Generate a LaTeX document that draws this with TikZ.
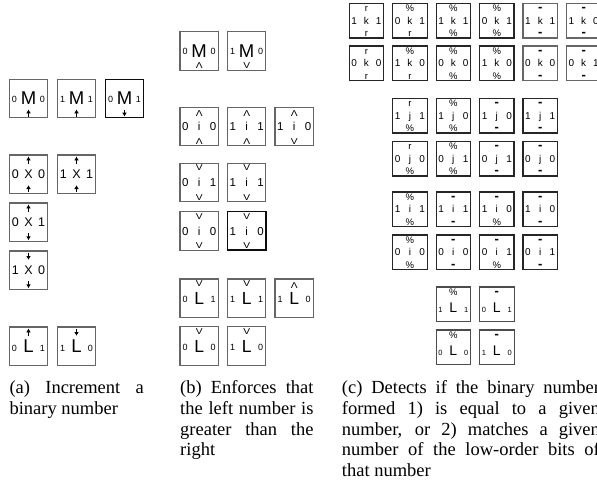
\documentclass[tikz,border=0pt]{standalone}
\usepackage{fontspec}
\setmainfont{Liberation Serif}
\newfontfamily\tf{Liberation Sans}
\newfontfamily\wf[FakeStretch=1.2]{Liberation Sans}
\usetikzlibrary{arrows.meta}
\newcommand\fs[1]{\fontsize{#1}{#1}\selectfont}
\newcommand\dsh{{\fontsize{13}{13}\selectfont\bfseries -}}
\newcommand\wU{\raisebox{-1.8pt}{Λ}}
% #1 name, #2 position, #3 type, #4 extra style, #5 N, #6 W, #7 C, #8 E, #9 S
\newcommand\tile[9]{%
  \node[t#3,#4] (#1) at (#2) {#7};
  \node[s#3,anchor=base west] (#1w) at (#1.base west) {#6};
  \node[s#3,anchor=base east] (#1e) at (#1.base east) {#8};
  \node[n#3,anchor=north] (#1n) at (#1.north) {#5};
  \node[b#3,anchor=south] (#1s) at (#1.south) {#9};
}
\newcommand\upT[1]{\draw[arr] ([yshift=-8.8pt]#1.north) -- ([yshift=-1.6pt]#1.north);}
\newcommand\dnT[1]{\draw[arr] ([yshift=-1.6pt]#1.north) -- ([yshift=-8.8pt]#1.north);}
\newcommand\upB[1]{\draw[arr] ([yshift=1.2pt]#1.south) -- ([yshift=8.2pt]#1.south);}
\newcommand\dnB[1]{\draw[arr] ([yshift=8.2pt]#1.south) -- ([yshift=1.2pt]#1.south);}
\tikzset{
  tb/.style={draw=black!60, line width=1.1pt, inner sep=0pt, outer sep=0pt, anchor=north west},
  dk/.style={draw=black!95, line width=1.4pt},
  arr/.style={line width=1pt, -{Latex[length=3.8pt,width=4.8pt]}},
  wed/.style={font=\wf\fs{8.5}},
  tX/.style={tb, minimum size=38.4pt, font=\tf\fs{12.5}, text height=9pt, text depth=0pt},
  sX/.style={font=\tf\fs{12.5}, inner sep=2.3pt},
  nX/.style={inner sep=0pt}, bX/.style={inner sep=0pt},
  tL/.style={tb, minimum size=38.4pt, font=\tf\fs{18.5}, text height=13.2pt, text depth=0pt},
  sL/.style={font=\tf\fs{9}, inner sep=2.5pt, yshift=1.8pt},
  nL/.style={inner sep=0pt}, bL/.style={inner sep=0pt},
  tM/.style={tb, minimum size=38.4pt, font=\tf\fs{18.5}, text height=13.2pt, text depth=1pt},
  sM/.style={font=\tf\fs{9}, inner sep=2.5pt, yshift=2.3pt},
  nM/.style={inner sep=0pt}, bM/.style={wed, inner sep=1.4pt, text depth=0pt},
  tBL/.style={tb, minimum size=38.4pt, font=\tf\fs{17.5}, text height=12.5pt, text depth=0pt},
  sBL/.style={font=\tf\fs{9}, inner sep=2.5pt, yshift=1.8pt},
  nBL/.style={wed, inner sep=1pt, text height=6.2pt, text depth=0pt},
  bBL/.style={inner sep=0pt},
  tI/.style={tb, minimum size=38.4pt, font=\tf\fs{11.5}, text height=8.2pt, text depth=0pt},
  sI/.style={font=\tf\fs{11.5}, inner sep=2pt},
  nI/.style={wed, inner sep=1pt, text height=6.2pt, text depth=0pt},
  bI/.style={wed, inner sep=1pt, text depth=0pt},
  tK/.style={tb, draw=black!85, line width=1.2pt, minimum size=34.5pt, font=\tf\fs{10}, text height=7.2pt, text depth=0pt},
  sK/.style={font=\tf\fs{10}, inner sep=2pt},
  nK/.style={font=\tf\fs{9.5}, inner sep=1pt, text height=7pt, text depth=0pt},
  bK/.style={font=\tf\fs{9.5}, inner sep=1.2pt, text depth=0pt},
  tCL/.style={tb, draw=black!70, line width=1.1pt, minimum size=34.5pt, font=\tf\fs{14}, text height=16pt, text depth=0pt},
  sCL/.style={font=\tf\fs{7.5}, inner sep=2pt},
  nCL/.style={nK}, bCL/.style={inner sep=0pt},
  captext/.style={anchor=north west, inner sep=0pt, align=justify,
    font={\fontsize{18.5}{20.8}\selectfont\tolerance=10000 \hyphenpenalty=10000 \exhyphenpenalty=10000 }}
}
\begin{document}
\begin{tikzpicture}[x=1pt,y=-1pt]
\useasboundingbox (0,0) rectangle (597,485);
\clip (0,0) rectangle (597,485);
\fill[white] (0,0) rectangle (597,485);
% ---------------- (a)
\tile{aM1}{9.3,79.3}{M}{}{}{0}{M}{0}{} \upB{aM1}
\tile{aM2}{57.3,79.3}{M}{}{}{1}{M}{1}{} \upB{aM2}
\tile{aM3}{105.3,79.3}{M}{dk}{}{0}{M}{1}{} \dnB{aM3}
\tile{aX1}{9.3,155}{X}{}{}{0}{X}{0}{} \upT{aX1} \upB{aX1}
\tile{aX2}{57.3,155}{X}{}{}{1}{X}{1}{} \upT{aX2} \upB{aX2}
\tile{aX3}{9.3,203}{X}{}{}{0}{X}{1}{} \upT{aX3} \dnB{aX3}
\tile{aX4}{9.3,251}{X}{}{}{1}{X}{0}{} \dnT{aX4} \dnB{aX4}
\tile{aL1}{9.3,327}{L}{}{}{0}{L}{1}{} \upT{aL1}
\tile{aL2}{57.3,327}{L}{}{}{1}{L}{0}{} \dnT{aL2}
% ---------------- (b)
\tile{bM1}{180,31.7}{M}{}{}{0}{M}{0}{Λ}
\tile{bM2}{227.5,31.7}{M}{}{}{1}{M}{0}{V}
\tile{bi1}{180,107.3}{I}{}{\wU}{0}{i}{0}{Λ}
\tile{bi2}{227.5,107.3}{I}{}{\wU}{1}{i}{1}{Λ}
\tile{bi3}{275,107.3}{I}{}{\wU}{1}{i}{0}{V}
\tile{bi4}{180,163.3}{I}{}{V}{0}{i}{1}{V}
\tile{bi5}{227.5,163.3}{I}{}{V}{1}{i}{1}{V}
\tile{bi6}{180,211.7}{I}{}{V}{0}{i}{0}{V}
\tile{bi7}{227.5,211.7}{I}{dk}{V}{1}{i}{0}{V}
\tile{bL1}{180,279}{BL}{}{V}{0}{L}{1}{}
\tile{bL2}{227.5,279}{BL}{}{V}{1}{L}{1}{}
\tile{bL3}{275,279}{BL}{}{\wU}{1}{L}{0}{}
\tile{bL4}{180,326.7}{BL}{}{V}{0}{L}{0}{}
\tile{bL5}{227.5,326.7}{BL}{}{V}{1}{L}{0}{}
% ---------------- (c)
\tile{k11}{349.2,3.5}{K}{}{r}{1}{k}{1}{r}
\tile{k12}{392.65,3.5}{K}{}{\%}{0}{k}{1}{r}
\tile{k13}{436.1,3.5}{K}{}{\%}{1}{k}{1}{\%}
\tile{k14}{479.55,3.5}{K}{}{\%}{0}{k}{1}{\%}
\tile{k15}{523,3.5}{K}{draw=black!60}{\dsh}{1}{k}{1}{\dsh}
\tile{k16}{566.45,3.5}{K}{draw=black!60}{\dsh}{1}{k}{0}{\dsh}
\tile{k21}{349.2,46}{K}{}{r}{0}{k}{0}{r}
\tile{k22}{392.65,46}{K}{}{\%}{1}{k}{0}{r}
\tile{k23}{436.1,46}{K}{}{\%}{0}{k}{0}{\%}
\tile{k24}{479.55,46}{K}{}{\%}{1}{k}{0}{\%}
\tile{k25}{523,46}{K}{draw=black!60}{\dsh}{0}{k}{0}{\dsh}
\tile{k26}{566.45,46}{K}{draw=black!60}{\dsh}{0}{k}{1}{\dsh}
\tile{j12}{392.65,98.5}{K}{}{r}{1}{j}{1}{\%}
\tile{j13}{436.1,98.5}{K}{}{\%}{1}{j}{0}{\%}
\tile{j14}{479.55,98.5}{K}{}{\dsh}{1}{j}{0}{\dsh}
\tile{j15}{523,98.5}{K}{}{\dsh}{1}{j}{1}{\dsh}
\tile{j22}{392.65,141.5}{K}{}{r}{0}{j}{0}{\%}
\tile{j23}{436.1,141.5}{K}{}{\%}{0}{j}{1}{\%}
\tile{j24}{479.55,141.5}{K}{}{\dsh}{0}{j}{1}{\dsh}
\tile{j25}{523,141.5}{K}{}{\dsh}{0}{j}{0}{\dsh}
\tile{i12}{392.65,192}{K}{}{\%}{1}{i}{1}{\%}
\tile{i13}{436.1,192}{K}{}{\dsh}{1}{i}{1}{\dsh}
\tile{i14}{479.55,192}{K}{}{\dsh}{1}{i}{0}{\%}
\tile{i15}{523,192}{K}{}{\dsh}{1}{i}{0}{\dsh}
\tile{i22}{392.65,235}{K}{}{\%}{0}{i}{0}{\%}
\tile{i23}{436.1,235}{K}{}{\dsh}{0}{i}{0}{\dsh}
\tile{i24}{479.55,235}{K}{}{\dsh}{0}{i}{1}{\%}
\tile{i25}{523,235}{K}{}{\dsh}{0}{i}{1}{\dsh}
\tile{cL13}{436.1,287}{CL}{}{\%}{1}{L}{1}{}
\tile{cL14}{479.55,287}{CL}{}{\dsh}{0}{L}{1}{}
\tile{cL23}{436.1,330}{CL}{}{\%}{0}{L}{0}{}
\tile{cL24}{479.55,330}{CL}{}{\dsh}{1}{L}{0}{}
% ---------------- captions
\node[captext, text width=134.4pt] (capa) at (9.3,380.3)
  {(a) Increment a\linebreak binary number};
\node[captext, text width=133.3pt] (capb) at (180,380.3)
  {(b) Enforces that\linebreak the left number is\linebreak greater than the\linebreak right};
\node[captext, text width=258pt] (capc) at (341.7,380.3)
  {(c) Detects if the binary number\linebreak formed 1) is equal to a given\linebreak number, or 2) matches a given\linebreak number of the low-order bits of\linebreak that number};
\end{tikzpicture}
\end{document}
